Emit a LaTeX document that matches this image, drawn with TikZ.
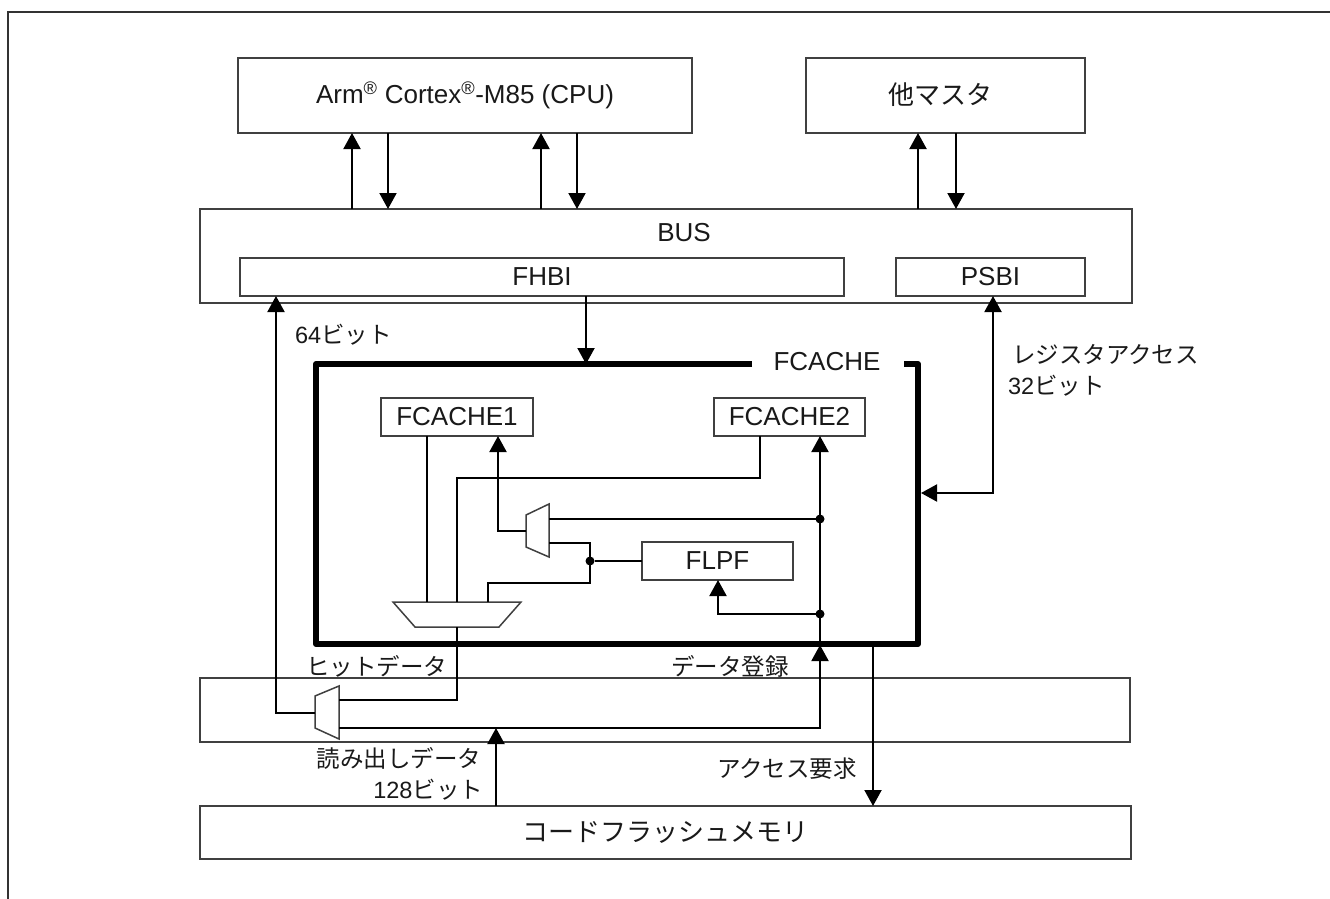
\documentclass[tikz,border=0pt]{standalone}
\usepackage{fontspec}
\setmainfont{Liberation Sans}
\newfontfamily\cjk{Noto Sans CJK JP}
\usetikzlibrary{arrows.meta,calc}
\newcommand{\J}[1]{{\cjk #1}}
\tikzset{
  every node/.style={font=\fontsize{26}{31}\selectfont, inner sep=0pt, outer sep=0pt, text=black!90},
  boxn/.style={draw=black!75, line width=1.5pt, fill=white, anchor=north west},
  wire/.style={draw=black, line width=2pt},
  upa/.style={wire, -{Triangle[length=16pt,width=17pt]}},
  bothway/.style={wire, {Triangle[length=16pt,width=17pt]}-{Triangle[length=16pt,width=17pt]}},
  dotn/.style={circle, fill=black, minimum size=9pt},
  muxs/.style={draw=black!75, line width=1.5pt, fill=white},
  lbl/.style={anchor=base},
  note/.style={font=\fontsize{23.5}{28}\selectfont},
}
\begin{document}
\begin{tikzpicture}[x=1pt,y=-1pt]
\useasboundingbox (0,0) rectangle (1330,899);
\coordinate (fo) at (8,12);
\coordinate (fb) at (8,899);
\coordinate (fr) at (1330,12);
\draw[draw=black!80,line width=1.5pt] (fb) -- (fo) -- (fr);
% boxes
\node[boxn,minimum width=454pt,minimum height=75pt] (cpu) at (238,58) {};
\node (cpul) at (465,95) {Arm\textsuperscript{®} Cortex\textsuperscript{®}-M85 (CPU)};
\node[boxn,minimum width=279pt,minimum height=75pt] (oth) at (806,58) {};
\node[lbl] (othl) at (940,104) {\J{他マスタ}};
\node[boxn,minimum width=932pt,minimum height=94pt] (bus) at (200,209) {};
\node[lbl] (busl) at (684,241) {BUS};
\node[boxn,minimum width=604pt,minimum height=38pt] (fhbi) at (240,258) {FHBI};
\node[boxn,minimum width=189pt,minimum height=38pt] (psbi) at (896,258) {PSBI};
\node[boxn,minimum width=930pt,minimum height=64pt] (mid) at (200,678) {};
\node[boxn,minimum width=931pt,minimum height=53pt] (flash) at (200,806) {\J{コードフラッシュメモリ}};
% FCACHE frame
\coordinate (fca) at (752,364);
\coordinate (fcb) at (316,364);
\coordinate (fcc) at (316,644);
\coordinate (fcd) at (918,644);
\coordinate (fce) at (918,364);
\coordinate (fcf) at (904,364);
\draw[line width=6pt,line join=round] (fca) -- (fcb) -- (fcc) -- (fcd) -- (fce) -- (fcf);
\node (fcl) at (827,362) {FCACHE};
\node[boxn,minimum width=152pt,minimum height=38pt] (f1) at (381,398) {FCACHE1};
\node[boxn,minimum width=151pt,minimum height=38pt] (f2) at (714,398) {FCACHE2};
\node[boxn,minimum width=151pt,minimum height=38pt] (flpf) at (642,542) {FLPF};
% column helpers
\coordinate (xa) at (352,0); \coordinate (xb) at (388,0);
\coordinate (xc) at (541,0); \coordinate (xd) at (577,0);
\coordinate (xe) at (918,0); \coordinate (xf) at (956,0);
\coordinate (xg) at (586,0); \coordinate (xh) at (993,0);
\coordinate (xi) at (276,0); \coordinate (xj) at (820,0);
\coordinate (xk) at (873,0); \coordinate (xl) at (496,0);
\coordinate (xm) at (427,0); \coordinate (xn) at (457,0);
\coordinate (xo) at (760,0); \coordinate (xp) at (498,0);
\coordinate (xq) at (718,0); \coordinate (xr) at (590,0);
\coordinate (xs) at (487.5,0);
% CPU / master arrows
\draw[upa] (bus.north -| xa) -- (cpu.south -| xa);
\draw[upa] (cpu.south -| xb) -- (bus.north -| xb);
\draw[upa] (bus.north -| xc) -- (cpu.south -| xc);
\draw[upa] (cpu.south -| xd) -- (bus.north -| xd);
\draw[upa] (bus.north -| xe) -- (oth.south -| xe);
\draw[upa] (oth.south -| xf) -- (bus.north -| xf);
\draw[upa] (fhbi.south -| xg) -- (fcb -| xg);
% PSBI
\coordinate (pc) at (993,493);
\coordinate (pe) at (921,493);
\draw[bothway] (psbi.south -| xh) -- (pc) -- (pe);
% muxes
\coordinate (ma1) at (393,602); \coordinate (ma2) at (521,602);
\coordinate (ma3) at (499,627); \coordinate (ma4) at (415,627);
\draw[muxs] (ma1) -- (ma2) -- (ma3) -- (ma4) -- cycle;
\coordinate (mb1) at (339,686); \coordinate (mb2) at (339,739);
\coordinate (mb3) at (315,728); \coordinate (mb4) at (315,696);
\draw[muxs] (mb1) -- (mb2) -- (mb3) -- (mb4) -- cycle;
\coordinate (mc1) at (549,504); \coordinate (mc2) at (549,557);
\coordinate (mc3) at (526,547); \coordinate (mc4) at (526,515);
\draw[muxs] (mc1) -- (mc2) -- (mc3) -- (mc4) -- cycle;
% ports
\coordinate (mbo) at (315,713);
\coordinate (mbu) at (339,700);
\coordinate (mbl) at (339,728);
\coordinate (mco) at (526,531);
\coordinate (mcu) at (549,519);
\coordinate (mcl) at (549,543);
\node[dotn] (d1) at (820,519) {};
\node[dotn] (d2) at (820,614) {};
\node[dotn] (d3) at (590,561) {};
% wires
\draw[upa] (mbo) -| (xi |- fhbi.south);
\draw[wire] (f1.south -| xm) -- (ma1 -| xm);
\draw[wire] (f2.south -| xo) |- (xn |- 0,478) -- (ma1 -| xn);
\draw[wire] (ma4 -| xn) |- (mbu);
\draw[wire] (mbl) -- (mbl -| xj) -- (fcc -| xj);
\draw[upa] (mbl -| xj) -- (xj |- 0,645);
\draw[upa] (fcc -| xj) -- (f2.south -| xj);
\draw[upa] (flash.north -| xl) -- (xl |- mbl);
\draw[upa] (fcc -| xk) -- (flash.north -| xk);
\draw[wire] (mcu) -- (d1);
\draw[upa] (d2) -| (flpf.south -| xq);
\draw[upa] (mco) -| (f1.south -| xp);
\draw[wire] (mcl) -| (d3.center);
\draw[wire] (d3.center) |- (xs |- 0,583) -- (ma1 -| xs);
\draw[wire] (d3) -- (flpf.west |- d3);
% labels
\node[note,anchor=base west] (t64) at (295,343) {64\J{ビット}};
\node[note,anchor=base west] (treg) at (1012,363) {\J{レジスタアクセス}};
\node[note,anchor=base west] (t32) at (1008,394) {32\J{ビット}};
\node[note,anchor=base west] (thit) at (306,675) {\J{ヒットデータ}};
\node[note,anchor=base west] (treg2) at (671,675) {\J{データ登録}};
\node[note,anchor=base east] (trd) at (481,767) {\J{読み出しデータ}};
\node[note,anchor=base east] (t128) at (483,798) {128\J{ビット}};
\node[note,anchor=base west] (tacc) at (717,777) {\J{アクセス要求}};
\end{tikzpicture}
\end{document}
